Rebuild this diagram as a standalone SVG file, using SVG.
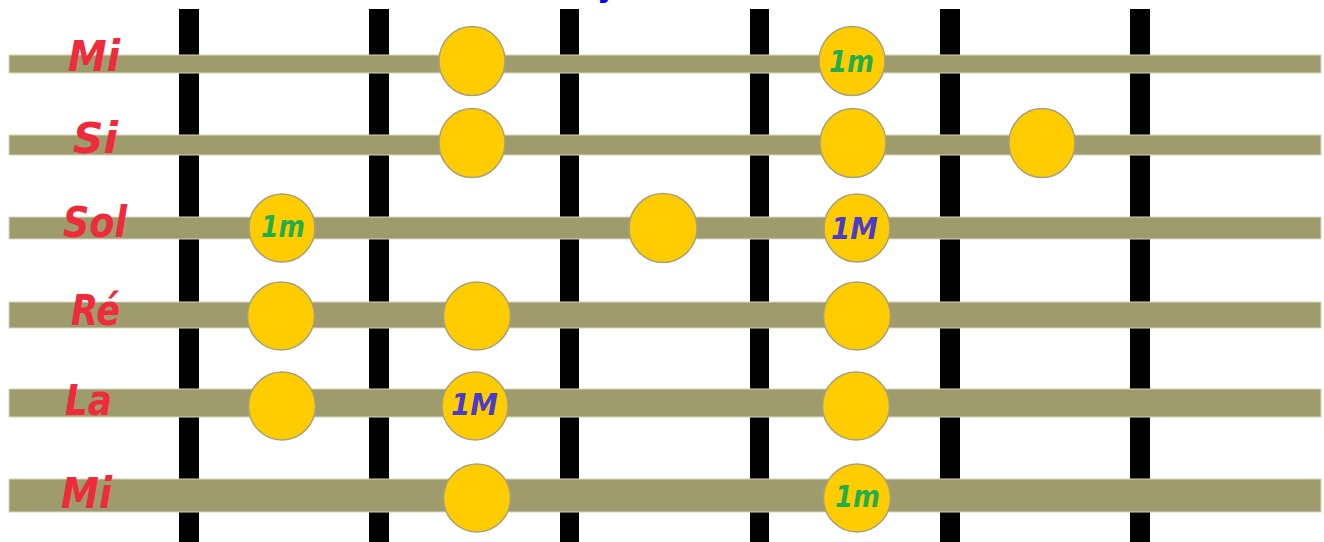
<svg xmlns="http://www.w3.org/2000/svg" width="1324" height="542" viewBox="0 0 1324 542">
<style>
.fret{fill:#000}
.str{fill:#9E9B6C;stroke:#D9D6BE;stroke-width:1}
.dot{fill:#FFCC00;stroke:#A8A07A;stroke-width:1.5}
.lbl{font-family:"DejaVu Sans",sans-serif;font-weight:bold;font-style:oblique;font-size:42px;fill:#EE2B3A}
.in{font-family:"DejaVu Sans",sans-serif;font-weight:bold;font-style:oblique;font-size:31px}
.m{fill:#22AE4C}
.M{fill:#4A3CCB}
</style>
<rect width="1324" height="542" fill="#fff"/>
<text x="597" y="-3" font-family="DejaVu Sans,sans-serif" font-weight="bold" font-size="30" fill="#0000EE">y</text>
<g id="frets">
<rect class="fret" x="179" y="9" width="20" height="533"/>
<rect class="fret" x="369" y="9" width="20" height="533"/>
<rect class="fret" x="560" y="9" width="19" height="533"/>
<rect class="fret" x="750" y="9" width="19" height="533"/>
<rect class="fret" x="940" y="9" width="20" height="533"/>
<rect class="fret" x="1130" y="9" width="20" height="533"/>
</g>
<g id="strings">
<rect class="str" x="9" y="55" width="1312" height="18"/>
<rect class="str" x="9" y="135" width="1312" height="20"/>
<rect class="str" x="9" y="217" width="1312" height="22"/>
<rect class="str" x="9" y="302" width="1312" height="26"/>
<rect class="str" x="9" y="389" width="1312" height="28"/>
<rect class="str" x="9" y="479" width="1312" height="33"/>
</g>
<g id="labels">
<text class="lbl" x="68" y="71" textLength="52" lengthAdjust="spacingAndGlyphs">Mi</text>
<text class="lbl" x="73" y="153" textLength="45" lengthAdjust="spacingAndGlyphs">Si</text>
<text class="lbl" x="63" y="237" textLength="64" lengthAdjust="spacingAndGlyphs">Sol</text>
<text class="lbl" x="71" y="325" textLength="49" lengthAdjust="spacingAndGlyphs">Ré</text>
<text class="lbl" x="65" y="415" textLength="47" lengthAdjust="spacingAndGlyphs">La</text>
<text class="lbl" x="61" y="508" textLength="51" lengthAdjust="spacingAndGlyphs">Mi</text>
</g>
<g id="nodes">
<g id="n-mi1-1"><ellipse class="dot" cx="472" cy="61" rx="33" ry="34.5"/></g>
<g id="n-mi1-2"><ellipse class="dot" cx="852" cy="61" rx="33" ry="34.5"/><text class="in m" x="829" y="72" textLength="45" lengthAdjust="spacingAndGlyphs">1m</text></g>
<g id="n-si-1"><ellipse class="dot" cx="472" cy="143" rx="33" ry="34.5"/></g>
<g id="n-si-2"><ellipse class="dot" cx="853" cy="143" rx="33" ry="34.5"/></g>
<g id="n-si-3"><ellipse class="dot" cx="1042" cy="143" rx="33" ry="34.5"/></g>
<g id="n-sol-1"><ellipse class="dot" cx="282" cy="228" rx="33" ry="34"/><text class="in m" x="261" y="237" textLength="44" lengthAdjust="spacingAndGlyphs">1m</text></g>
<g id="n-sol-2"><ellipse class="dot" cx="663" cy="228" rx="34" ry="34.5"/></g>
<g id="n-sol-3"><ellipse class="dot" cx="857" cy="228" rx="33" ry="34"/><text class="in M" x="831" y="239" textLength="47" lengthAdjust="spacingAndGlyphs">1M</text></g>
<g id="n-re-1"><ellipse class="dot" cx="281" cy="316" rx="33.5" ry="34"/></g>
<g id="n-re-2"><ellipse class="dot" cx="477" cy="316" rx="33.5" ry="34"/></g>
<g id="n-re-3"><ellipse class="dot" cx="857" cy="316" rx="33.5" ry="34"/></g>
<g id="n-la-1"><ellipse class="dot" cx="282" cy="406" rx="33.5" ry="34"/></g>
<g id="n-la-2"><ellipse class="dot" cx="475" cy="406" rx="33" ry="34"/><text class="in M" x="451" y="415" textLength="47" lengthAdjust="spacingAndGlyphs">1M</text></g>
<g id="n-la-3"><ellipse class="dot" cx="856" cy="406" rx="33.5" ry="34"/></g>
<g id="n-mi6-1"><ellipse class="dot" cx="477" cy="498" rx="33.5" ry="34"/></g>
<g id="n-mi6-2"><ellipse class="dot" cx="857" cy="498" rx="33.5" ry="34"/><text class="in m" x="835" y="507" textLength="45" lengthAdjust="spacingAndGlyphs">1m</text></g>
</g>
</svg>
